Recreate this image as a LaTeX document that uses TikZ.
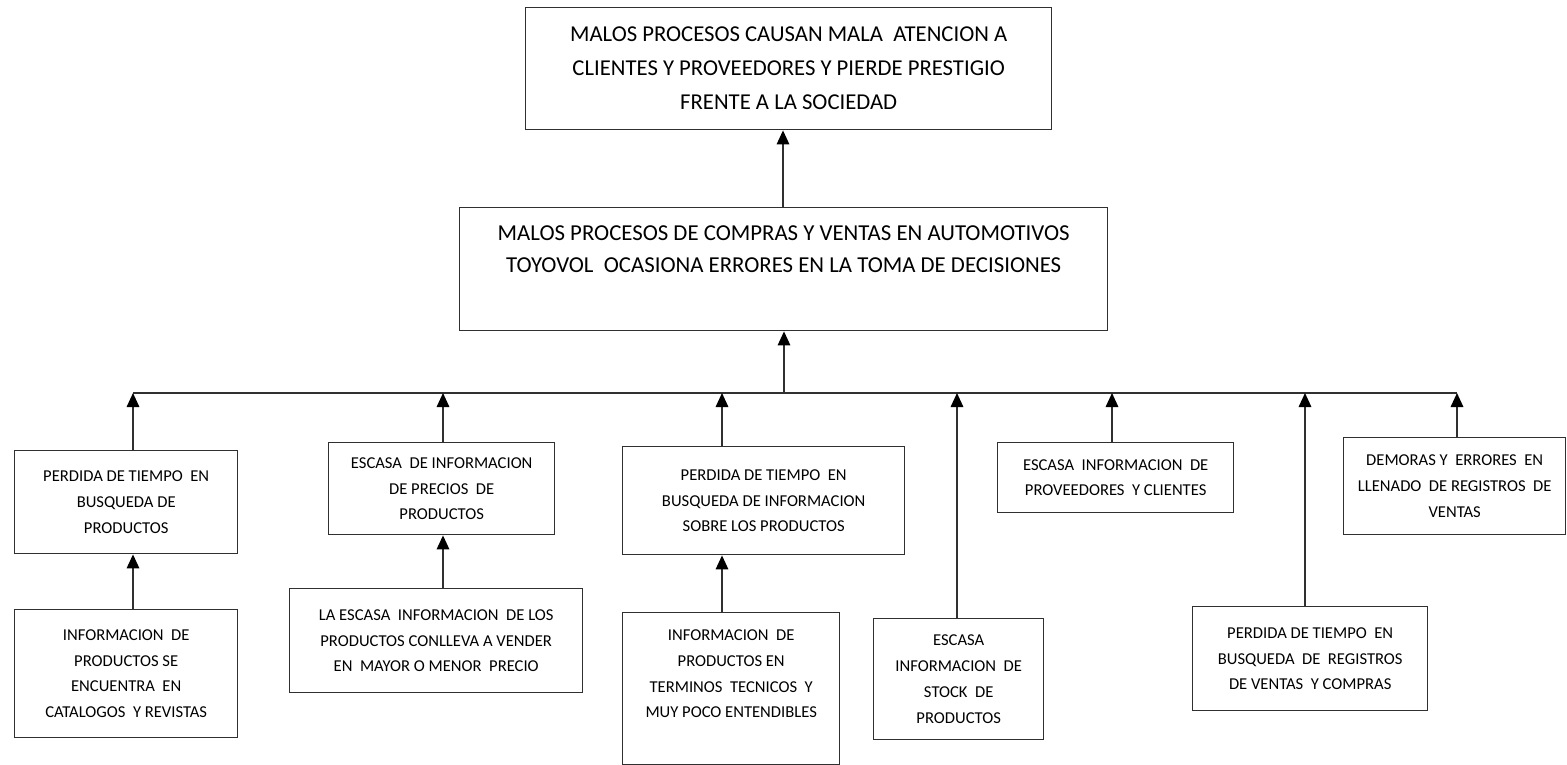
\documentclass[tikz,border=0pt]{standalone}
\usepackage{fontspec}
\setmainfont{Carlito}
\usetikzlibrary{arrows.meta,calc}
\definecolor{ln}{HTML}{303030}
\newcommand\smallf{\fontsize{16.6}{25.7}\selectfont}
\newcommand\bigf{\fontsize{22.7}{34}\selectfont}
\newcommand\midf{\fontsize{22.8}{32}\selectfont}
\begin{document}
\begin{tikzpicture}[x=1pt,y=-1pt,
  box/.style={draw=ln,line width=1.4pt,anchor=north west,inner sep=0pt,align=center,font=\smallf},
  txt/.style={inner sep=0pt,align=center},
  arr/.style={draw=ln,line width=1.6pt,-{Triangle[width=12.5pt,length=14pt,color=black]}},
  busline/.style={draw=ln,line width=1.6pt}]
\useasboundingbox (0,0) rectangle (1567,765);
\clip (0,0) rectangle (1567,765);
% boxes
\node[box,font=\bigf,minimum width=526pt,minimum height=122pt] (top) at (525,7)
  {MALOS PROCESOS CAUSAN MALA\ \ ATENCION A\\CLIENTES Y PROVEEDORES Y PIERDE PRESTIGIO\\FRENTE A LA SOCIEDAD};
\node[box,minimum width=648pt,minimum height=123pt] (mid) at (459,207) {};
\node[txt,font=\midf,anchor=center] (midt) at ($(mid.north)+(0,42)$)
  {MALOS PROCESOS DE COMPRAS Y VENTAS EN AUTOMOTIVOS\\TOYOVOL\ \ OCASIONA ERRORES EN LA TOMA DE DECISIONES};
\node[box,minimum width=223pt,minimum height=103pt] (a1) at (14,450)
  {PERDIDA DE TIEMPO\ \ EN\\BUSQUEDA DE\\PRODUCTOS};
\node[box,minimum width=223pt,minimum height=128pt] (b1) at (14,609)
  {INFORMACION\ \ DE\\PRODUCTOS SE\\ENCUENTRA\ \ EN\\CATALOGOS\ \ Y REVISTAS};
\node[box,minimum width=226pt,minimum height=92pt] (a2) at (328,442)
  {ESCASA\ \ DE INFORMACION\\DE PRECIOS\ \ DE\\PRODUCTOS};
\node[box,minimum width=293pt,minimum height=104pt] (b2) at (289,588)
  {LA ESCASA\ \ INFORMACION\ \ DE LOS\\PRODUCTOS CONLLEVA A VENDER\\EN\ \ MAYOR O MENOR\ \ PRECIO};
\node[box,minimum width=282pt,minimum height=108pt] (a3) at (622,446)
  {PERDIDA DE TIEMPO\ \ EN\\BUSQUEDA DE INFORMACION\\SOBRE LOS PRODUCTOS};
\node[box,minimum width=217pt,minimum height=152pt] (b3) at (622,612) {};
\node[txt,font=\smallf,anchor=center] (b3t) at ($(b3.north)+(0,62)$)
  {INFORMACION\ \ DE\\PRODUCTOS EN\\TERMINOS\ \ TECNICOS\ \ Y\\MUY POCO ENTENDIBLES};
\node[box,minimum width=170pt,minimum height=121pt] (c4) at (873,618)
  {ESCASA\\INFORMACION\ \ DE\\STOCK\ \ DE\\PRODUCTOS};
\node[box,minimum width=236pt,minimum height=70pt] (a5) at (997,442)
  {ESCASA\ \ INFORMACION\ \ DE\\PROVEEDORES\ \ Y CLIENTES};
\node[box,minimum width=235pt,minimum height=104pt] (c6) at (1192,606)
  {PERDIDA DE TIEMPO\ \ EN\\BUSQUEDA\ \ DE\ \ REGISTROS\\DE VENTAS\ \ Y COMPRAS};
\node[box,minimum width=222pt,minimum height=97pt] (a7) at (1343,437)
  {DEMORAS Y\ \ ERRORES\ \ EN\\LLENADO\ \ DE REGISTROS\ \ DE\\VENTAS};
% bus
\coordinate (p1) at (133,393);
\coordinate (p2) at (443,393);
\coordinate (p3) at (722,393);
\coordinate (pm) at (784,393);
\coordinate (p4) at (957,393);
\coordinate (p5) at (1112,393);
\coordinate (p6) at (1305,393);
\coordinate (p7) at (1457,393);
\draw[busline] (p1) -- (p7);
% arrows
\draw[arr] (mid.north -| 783,0) -- (top.south -| 783,0);
\draw[arr] (pm) -- (mid.south -| pm);
\draw[arr] (a1.north -| p1) -- (p1);
\draw[arr] (b1.north -| p1) -- (a1.south -| p1);
\draw[arr] (a2.north -| p2) -- (p2);
\draw[arr] (b2.north -| p2) -- (a2.south -| p2);
\draw[arr] (a3.north -| p3) -- (p3);
\draw[arr] (b3.north -| p3) -- (a3.south -| p3);
\draw[arr] (c4.north -| p4) -- (p4);
\draw[arr] (a5.north -| p5) -- (p5);
\draw[arr] (c6.north -| p6) -- (p6);
\draw[arr] (a7.north -| p7) -- (p7);
\end{tikzpicture}
\end{document}
